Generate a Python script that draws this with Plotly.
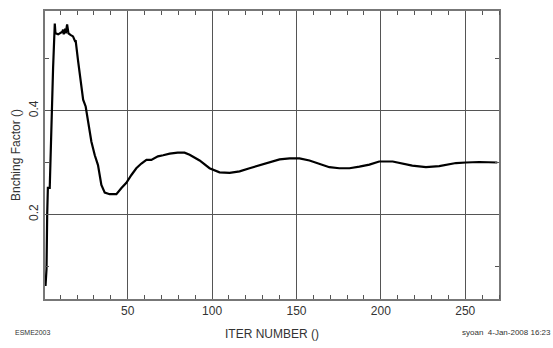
import plotly.graph_objects as go

# Iteration number and branching factor
iters = [1.3, 1.9, 2.3, 2.7, 3.8, 4.8, 5.8, 6.8, 7.2, 8.8, 10.2, 11.3, 11.7, 12.1, 12.9, 13.3,
         14.1, 14.9, 16.1, 17.6, 18.8, 19.2, 20.6, 22.6, 23.6, 25.1, 26.5, 28.5, 30.5, 32.4,
         34.4, 36.4, 39.3, 43.3, 46.3, 49.2, 52.2, 55.1, 58.1, 61.1, 64.0, 67.9, 71.0, 74.9,
         79.6, 83.7, 86.7, 92.6, 98.5, 104.4, 110.4, 116.3, 122.2, 128.0, 134.0, 140.0,
         146.0, 151.8, 157.7, 163.6, 169.5, 175.4, 181.4, 187.3, 193.2, 199.0, 207.0, 218.6,
         226.7, 234.6, 244.5, 250.4, 258.3, 269.0]
bf = [0.062, 0.095, 0.20, 0.251, 0.251, 0.396, 0.483, 0.568, 0.549, 0.547, 0.549, 0.552,
      0.556, 0.547, 0.558, 0.549, 0.566, 0.549, 0.546, 0.543, 0.534, 0.534, 0.496, 0.44,
      0.421, 0.408, 0.383, 0.34, 0.314, 0.295, 0.257, 0.242, 0.239, 0.239, 0.251, 0.261,
      0.276, 0.289, 0.298, 0.305, 0.305, 0.312, 0.314, 0.317, 0.319, 0.319, 0.315, 0.304,
      0.289, 0.281, 0.280, 0.283, 0.289, 0.295, 0.300, 0.306, 0.308, 0.308, 0.304, 0.297,
      0.291, 0.289, 0.289, 0.292, 0.296, 0.302, 0.302, 0.294, 0.291, 0.293, 0.299, 0.300,
      0.301, 0.300]

x_ticks = [50, 100, 150, 200, 250]
y_ticks = [0.2, 0.4]

FONT = "Liberation Sans"
INK = "#333333"

fig = go.Figure()
fig.add_trace(go.Scatter(x=iters, y=bf, mode="lines",
                         line=dict(color="black", width=2.2), showlegend=False,
                         hoverinfo="skip"))

fig.update_layout(
    width=553, height=348,
    margin=dict(l=45, r=54, t=9, b=44),
    paper_bgcolor="white", plot_bgcolor="white",
    font=dict(family=FONT, size=11, color=INK),
    xaxis=dict(
        range=[1, 270], tickvals=x_ticks, ticktext=[str(v) for v in x_ticks],
        showgrid=True, gridcolor="#555555", gridwidth=1,
        ticks="", showline=True, linecolor="#777777", linewidth=1.5, mirror="ticks",
        zeroline=False, tickfont=dict(size=12, color=INK),
        minor=dict(dtick=10, tick0=0, ticks="inside", ticklen=4, tickcolor="#555555",
                   showgrid=False),
        title=dict(text="ITER NUMBER ()", font=dict(size=12, color=INK), standoff=12),
    ),
    yaxis=dict(
        range=[0.037, 0.592], tickvals=y_ticks, ticktext=["0.2", "0.4"],
        showgrid=True, gridcolor="#555555", gridwidth=1,
        ticks="", showline=True, linecolor="#777777", linewidth=1.5, mirror="ticks",
        zeroline=False, tickangle=-90, tickfont=dict(size=12, color=INK),
        minor=dict(dtick=0.1, tick0=0, ticks="inside", ticklen=4, tickcolor="#555555",
                   showgrid=False),
        title=dict(text="Bnching Factor ()", font=dict(size=12, color=INK), standoff=4),
    ),
    annotations=[
        dict(text="ESME2003", xref="paper", yref="paper", x=-0.07, y=-0.115,
             xanchor="left", yanchor="middle", showarrow=False,
             font=dict(size=7, color=INK, family=FONT)),
        dict(text="syoan  4-Jan-2008 16:23", xref="paper", yref="paper", x=1.119, y=-0.115,
             xanchor="right", yanchor="middle", showarrow=False,
             font=dict(size=8, color=INK, family=FONT)),
    ],
)

fig.write_html("out.html")
